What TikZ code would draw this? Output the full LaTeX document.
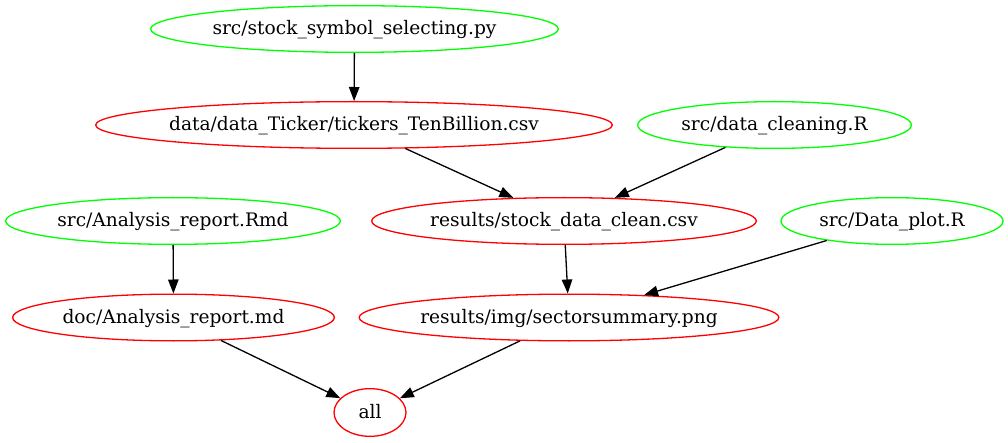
\documentclass[tikz,border=0pt]{standalone}
\usepackage{fontspec}
\setmainfont{DejaVu Serif}
\usetikzlibrary{shapes.geometric,arrows.meta}
\newcommand\nlab[1]{\makebox[0pt]{#1}}
\begin{document}
\begin{tikzpicture}[x=1pt,y=-1pt,
  gv/.style={ellipse, draw, line width=1.3pt, inner sep=0pt, minimum height=46.7pt,
    font=\fontsize{18.6}{22}\selectfont, text height=13pt, text depth=1.6pt},
  srcnode/.style={gv, draw=green},
  tgtnode/.style={gv, draw=red},
  dep/.style={-{Triangle[length=14pt,width=10.5pt]}, line width=1.3pt}]
\useasboundingbox (0,0) rectangle (1008,443);
\node[srcnode, minimum width=407.7pt] (n1) at (354.5,29) {\nlab{src/stock\_symbol\_selecting.py}};
\node[tgtnode, minimum width=516.7pt] (n2) at (354,125) {\nlab{data/data\_Ticker/tickers\_TenBillion.csv}};
\node[srcnode, minimum width=273.7pt] (n3) at (774.5,125) {\nlab{src/data\_cleaning.R}};
\node[srcnode, minimum width=334.7pt] (n4) at (173,221) {\nlab{src/Analysis\_report.Rmd}};
\node[tgtnode, minimum width=384.7pt] (n5) at (564,221) {\nlab{results/stock\_data\_clean.csv}};
\node[srcnode, minimum width=222pt] (n6) at (892,221) {\nlab{src/Data\_plot.R}};
\node[tgtnode, minimum width=321.7pt] (n7) at (173.5,317.5) {\nlab{doc/Analysis\_report.md}};
\node[tgtnode, minimum width=419.7pt] (n8) at (569,317.5) {\nlab{results/img/sectorsummary.png}};
\node[tgtnode, minimum width=72pt, minimum height=47.7pt] (n9) at (370,412.5) {\nlab{all}};
\draw[dep] (n1) -- (n2);
\draw[dep] (n2) -- (n5);
\draw[dep] (n3) -- (n5);
\draw[dep] (n5) -- (n8);
\draw[dep] (n6) -- (n8);
\draw[dep] (n4) -- (n7);
\draw[dep] (n7) -- (n9);
\draw[dep] (n8) -- (n9);
\end{tikzpicture}
\end{document}
